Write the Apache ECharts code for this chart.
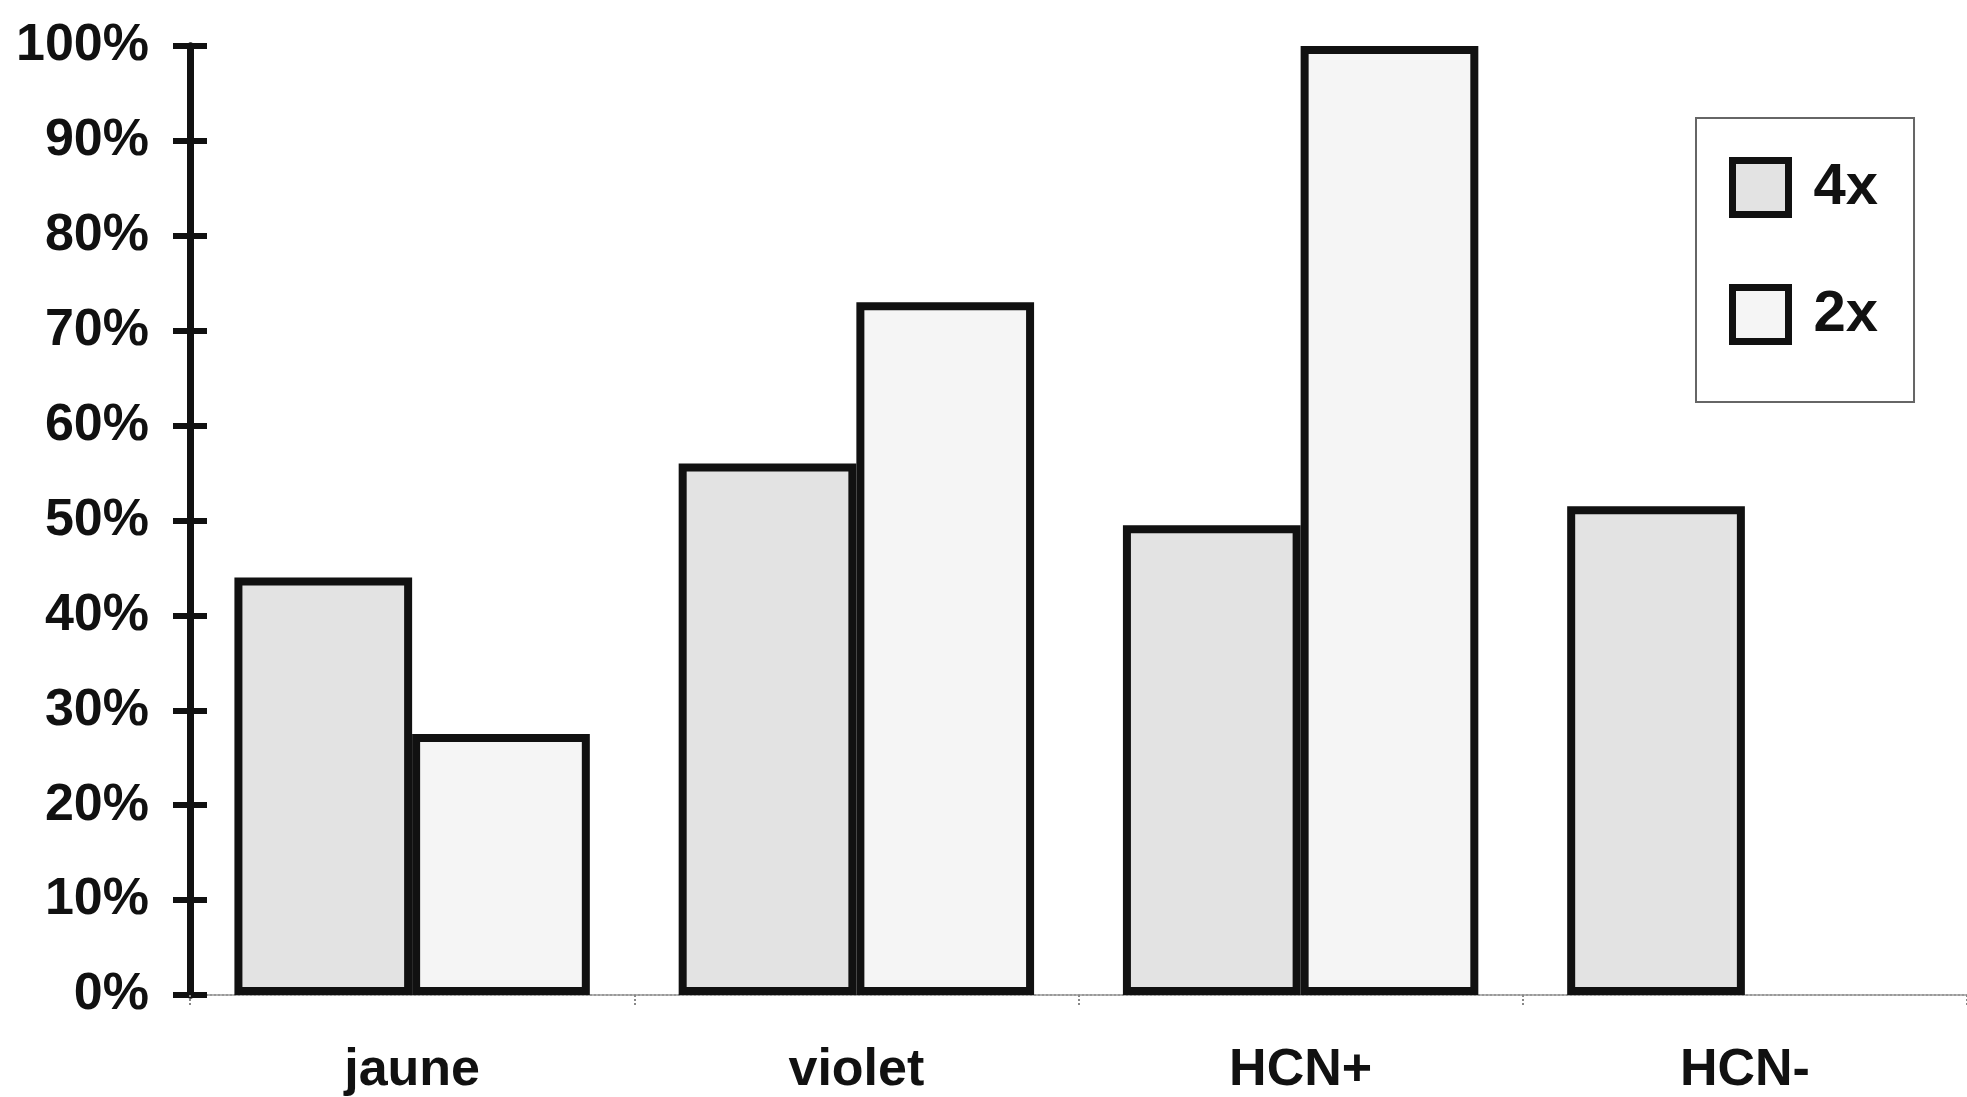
<!DOCTYPE html>
<html>
<head>
<meta charset="utf-8">
<script src="https://cdn.jsdelivr.net/npm/echarts@6/dist/echarts.min.js"></script>
<style>
html,body{margin:0;padding:0;background:#fff;}
#chart{width:1967px;height:1097px;}
</style>
</head>
<body>
<div id="chart"></div>
<script>
const categories = ['jaune', 'violet', 'HCN+', 'HCN-'];
const seriesNames = ['4x', '2x'];
const values4x = [44, 56, 49.5, 51.5];
const values2x = [27.5, 73, 100, '-'];
const yTicks = [0, 10, 20, 30, 40, 50, 60, 70, 80, 90, 100];

const FONT = "'Liberation Sans', Arial, sans-serif";
const chart = echarts.init(document.getElementById('chart'));

const yBase = {
  type: 'value', min: yTicks[0], max: yTicks[yTicks.length - 1], interval: 10,
  position: 'left',
  splitLine: { show: false },
  axisLine: { show: true, lineStyle: { color: '#111', width: 7 } }
};

chart.setOption({
  backgroundColor: '#ffffff',
  animation: false,
  grid: { left: 190, top: 46, bottom: 100, width: 1788 },
  legend: {
    data: seriesNames,
    orient: 'vertical',
    left: 1696, top: 118,
    padding: [39, 36, 57, 33],
    itemGap: 66,
    itemWidth: 56,
    itemHeight: 54,
    icon: 'rect',
    borderColor: '#666', borderWidth: 2,
    backgroundColor: '#fff',
    itemStyle: { borderColor: '#111', borderWidth: 7 },
    textStyle: { fontFamily: FONT, fontWeight: 'bold', fontSize: 58, color: '#111', padding: [8, 0, 0, 20] }
  },
  xAxis: {
    type: 'category', data: categories,
    axisLine: { show: true, lineStyle: { color: '#999', width: 2, type: 'dotted' } },
    axisTick: { show: true, interval: 0, length: 10, lineStyle: { color: '#888', width: 2, type: 'dotted' } },
    axisLabel: { interval: 0, margin: 50, fontFamily: FONT, fontWeight: 'bold', fontSize: 52, color: '#111' }
  },
  yAxis: [
    Object.assign({}, yBase, {
      axisTick: { show: true, length: 17, inside: false, lineStyle: { color: '#111', width: 6 } },
      axisLabel: { margin: 41, formatter: '{value}%', fontFamily: FONT, fontWeight: 'bold', fontSize: 52, color: '#111' }
    }),
    Object.assign({}, yBase, {
      axisTick: { show: true, length: 17, inside: true, lineStyle: { color: '#111', width: 6 } },
      axisLabel: { show: false }
    })
  ],
  series: [
    {
      name: seriesNames[0], type: 'bar', data: values4x,
      barGap: '0%', barCategoryGap: '20%',
      itemStyle: { color: '#e3e3e3', borderColor: '#111', borderWidth: 8 }
    },
    {
      name: seriesNames[1], type: 'bar', data: values2x,
      barGap: '0%', barCategoryGap: '20%',
      itemStyle: { color: '#f5f5f5', borderColor: '#111', borderWidth: 8 }
    }
  ]
});
</script>
</body>
</html>
